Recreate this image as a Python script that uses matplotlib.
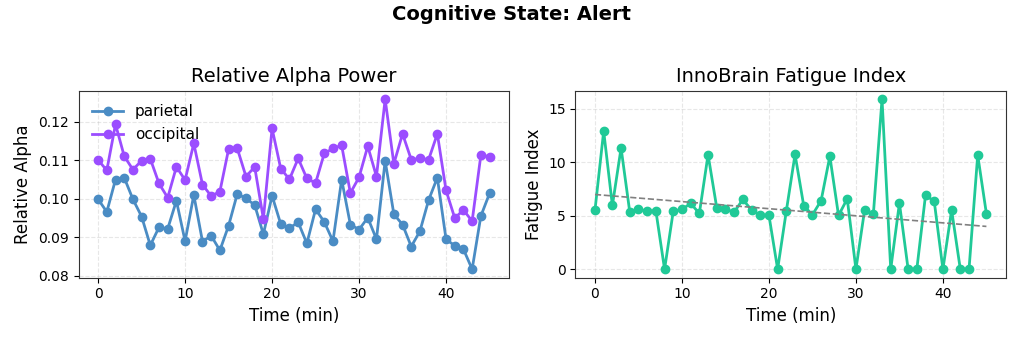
import numpy as np
import matplotlib
matplotlib.use("Agg")
import matplotlib.pyplot as plt

# Relative alpha power per minute, two electrode regions
parietal = [0.0999, 0.0966, 0.1050, 0.1055, 0.0999, 0.0954, 0.0879, 0.0926, 0.0922, 0.0995,
            0.0890, 0.1010, 0.0889, 0.0904, 0.0866, 0.0930, 0.1013, 0.1001, 0.0984, 0.0908,
            0.1008, 0.0934, 0.0924, 0.0939, 0.0884, 0.0973, 0.0940, 0.0890, 0.1050, 0.0933,
            0.0920, 0.0951, 0.0895, 0.1099, 0.0960, 0.0933, 0.0876, 0.0916, 0.0997, 0.1055,
            0.0895, 0.0878, 0.0869, 0.0817, 0.0955, 0.1014]
occipital = [0.1101, 0.1074, 0.1194, 0.1111, 0.1076, 0.1099, 0.1104, 0.1040, 0.1003, 0.1083,
             0.1049, 0.1144, 0.1037, 0.1007, 0.1019, 0.1129, 0.1131, 0.1058, 0.1083, 0.0948,
             0.1183, 0.1078, 0.1051, 0.1105, 0.1053, 0.1041, 0.1118, 0.1131, 0.1139, 0.1015,
             0.1056, 0.1137, 0.1058, 0.1259, 0.1091, 0.1169, 0.1102, 0.1105, 0.1102, 0.1169,
             0.1022, 0.0950, 0.0971, 0.0942, 0.1113, 0.1110]

# Fatigue index per minute
fatigue = [5.52, 12.89, 5.95, 11.31, 5.33, 5.64, 5.39, 5.45, 0.0, 5.42,
           5.58, 6.14, 5.21, 10.69, 5.73, 5.58, 5.33, 6.51, 5.52, 5.05,
           5.02, 0.0, 5.45, 10.72, 5.92, 5.08, 6.41, 10.54, 5.02, 6.57,
           0.0, 5.55, 5.11, 15.87, 0.0, 6.17, 0.0, 0.0, 6.91, 6.35,
           0.0, 5.52, 0.0, 0.0, 10.66, 5.18]

t = np.arange(len(parietal))

fig, (ax1, ax2) = plt.subplots(1, 2, figsize=(10.24, 3.41), dpi=100)
fig.subplots_adjust(left=0.0767, right=0.9824, bottom=0.1856, top=0.734, wspace=0.154)

fig.suptitle("Cognitive State: Alert", fontsize=14, fontweight="bold", y=0.985)

# left: alpha power
ax1.plot(t, parietal, "-o", color="#4a8cc4", lw=2, ms=6, label="parietal")
ax1.plot(t, occipital, "-o", color="#9b4dff", lw=2, ms=6, label="occipital")
ax1.set_title("Relative Alpha Power", fontsize=14)
ax1.set_xlabel("Time (min)", fontsize=12)
ax1.set_ylabel("Relative Alpha", fontsize=12)
ax1.legend(loc="upper left", frameon=False, fontsize=11)

# right: fatigue index with linear trend
ax2.plot(t, fatigue, "-o", color="#20c997", lw=2, ms=6)
coef = np.polyfit(t, fatigue, 1)
ax2.plot(t, np.polyval(coef, t), "--", color="gray", lw=1.2)
ax2.set_title("InnoBrain Fatigue Index", fontsize=14)
ax2.set_xlabel("Time (min)", fontsize=12)
ax2.set_ylabel("Fatigue Index", fontsize=12)

for ax in (ax1, ax2):
    ax.grid(True, ls="--", alpha=0.3)
    for s in ax.spines.values():
        s.set_color("#333333")

fig.savefig("out.png", dpi=100)
